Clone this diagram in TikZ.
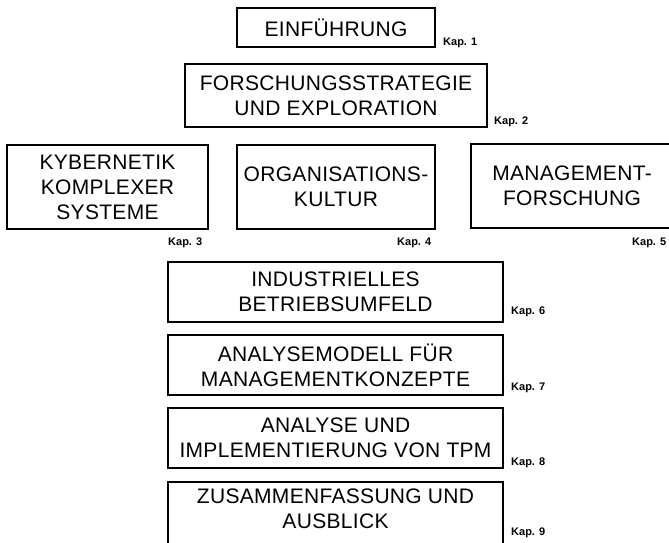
\documentclass[tikz,border=0pt]{standalone}
\usepackage{fontspec}
\setmainfont{Liberation Sans}
\newfontfamily\boxfont[LetterSpace=1.5]{Liberation Sans}
\newfontfamily\kapfont{Liberation Sans}

\tikzset{
  chapbox/.style={draw, line width=1.1pt, inner sep=0pt, align=center,
    font=\boxfont\fontsize{21}{25}\selectfont},
  chaptext/.style={inner sep=0pt, align=center,
    font=\boxfont\fontsize{21}{25}\selectfont},
  boxline/.style={draw, line width=1.1pt},
  kap/.style={anchor=west, inner sep=0pt,
    font=\kapfont\bfseries\fontsize{11}{13}\selectfont}
}

\begin{document}
\begin{tikzpicture}[x=1pt,y=-1pt]
  \useasboundingbox (0,0) rectangle (669,543);

  % top two chapters
  \node[chapbox, minimum width=198pt, minimum height=39pt] (b1) at (336,27.5) {EINFÜHRUNG};
  \node[kap] (k1) at (443,43) {Kap. 1};

  \node[chapbox, minimum width=302pt, minimum height=63pt] (b2) at (336,95.5)
    {FORSCHUNGSSTRATEGIE\\UND EXPLORATION};
  \node[kap] (k2) at (494,122) {Kap. 2};

  % three parallel theory chapters
  \node[chapbox, minimum width=201pt, minimum height=84pt] (b3) at (107.5,187)
    {KYBERNETIK\\KOMPLEXER\\SYSTEME};
  \node[kap] (k3) at (168,243) {Kap. 3};

  \node[chapbox, minimum width=198pt, minimum height=84pt] (b4) at (336,187)
    {ORGANISATIONS-\\KULTUR};
  \node[kap] (k4) at (397,243) {Kap. 4};

  % this box runs past the right margin
  \node[chapbox, minimum width=202pt, minimum height=84pt] (b5) at (572,186)
    {MANAGEMENT-\\FORSCHUNG};
  \node[kap] (k5) at (632,243) {Kap. 5};

  % stacked chapters
  \node[chapbox, minimum width=335pt, minimum height=60pt] (b6) at (335.5,292)
    {INDUSTRIELLES\\BETRIEBSUMFELD};
  \node[kap] (k6) at (511,312) {Kap. 6};

  \node[chapbox, minimum width=335pt, minimum height=60pt] (b7) at (335.5,365)
    {ANALYSEMODELL FÜR\\MANAGEMENTKONZEPTE};
  \node[kap] (k7) at (511,388) {Kap. 7};

  \node[chapbox, minimum width=335pt, minimum height=60pt] (b8) at (335.5,438)
    {ANALYSE UND\\IMPLEMENTIERUNG VON TPM};
  \node[kap] (k8) at (511,463) {Kap. 8};

  % last chapter, its lower edge runs off the page
  \node[chaptext] (b9) at (335.5,509) {ZUSAMMENFASSUNG UND\\AUSBLICK};
  \path[boxline] (168,482) rectangle (503,548);
  \node[kap] (k9) at (511,533) {Kap. 9};
\end{tikzpicture}
\end{document}
